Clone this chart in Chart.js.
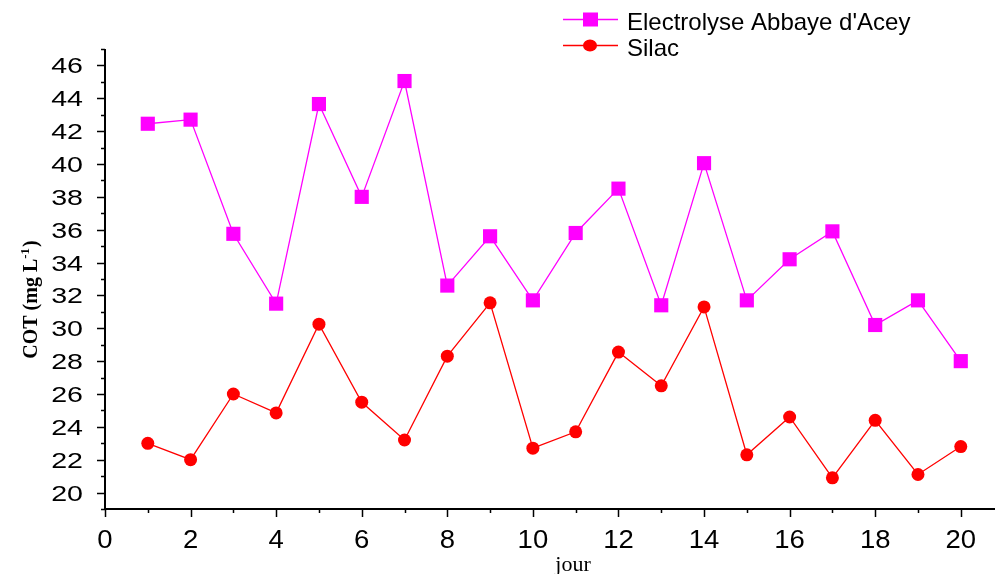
<!DOCTYPE html>
<html>
<head>
<meta charset="utf-8">
<script src="https://cdn.jsdelivr.net/npm/chart.js@4.4.1/dist/chart.umd.min.js"></script>
<style>
  body { margin: 0; background: #fff; }
</style>
</head>
<body>
<canvas id="chart" width="996" height="574"></canvas>
<script>
const days = [1, 2, 3, 4, 5, 6, 7, 8, 9, 10, 11, 12, 13, 14, 15, 16, 17, 18, 19, 20];
const electrolyse = [42.45, 42.7, 35.75, 31.5, 43.65, 38.0, 45.05, 32.6, 35.6, 31.7, 35.8, 38.5, 31.4, 40.05, 31.7, 34.2, 35.9, 30.2, 31.7, 28.0];
const silac = [23.0, 22.0, 26.0, 24.85, 30.25, 25.5, 23.2, 28.3, 31.55, 22.7, 23.7, 28.55, 26.5, 31.3, 22.3, 24.6, 20.9, 24.4, 21.1, 22.8];
const yTickValues = [20, 22, 24, 26, 28, 30, 32, 34, 36, 38, 40, 42, 44, 46];
const xTickValues = [0, 2, 4, 6, 8, 10, 12, 14, 16, 18, 20];
const seriesNames = ["Electrolyse Abbaye d'Acey", "Silac"];

const MAGENTA = "#ff00ff";
const RED = "#ff0000";

function toPoints(values) {
  return days.map((d, i) => ({ x: d, y: values[i] }));
}

// text squeezed/stretched horizontally like the original export
function stretchedText(ctx, text, x, y, sx, align) {
  const w = ctx.measureText(text).width * sx;
  let left = x;
  if (align === "right") left = x - w;
  if (align === "center") left = x - w / 2;
  ctx.save();
  ctx.translate(left, y);
  ctx.scale(sx, 1);
  ctx.textAlign = "left";
  ctx.fillText(text, 0, 0);
  ctx.restore();
}

// axis lines, ticks, tick labels, axis titles and the legend
const decorPlugin = {
  id: "decor",
  afterDraw(chart) {
    const { ctx, chartArea: a, scales: { x, y } } = chart;
    ctx.save();
    ctx.strokeStyle = "#000";
    ctx.lineWidth = 2;
    ctx.beginPath();
    ctx.moveTo(a.left, a.top);
    ctx.lineTo(a.left, a.bottom);
    ctx.lineTo(a.right, a.bottom);
    ctx.stroke();

    ctx.lineWidth = 1.5;
    ctx.beginPath();
    for (let v = Math.ceil(y.min); v <= y.max; v++) {
      const p = Math.round(y.getPixelForValue(v)) + 0.5;
      const len = yTickValues.includes(v) ? 8 : 4;
      ctx.moveTo(a.left - len, p);
      ctx.lineTo(a.left, p);
    }
    for (let v = Math.ceil(x.min); v <= x.max; v++) {
      const p = Math.round(x.getPixelForValue(v)) + 0.5;
      const len = xTickValues.includes(v) ? 8 : 4;
      ctx.moveTo(p, a.bottom);
      ctx.lineTo(p, a.bottom + len);
    }
    ctx.stroke();

    // tick labels
    ctx.fillStyle = "#000";
    ctx.textBaseline = "alphabetic";
    ctx.font = "22px 'Liberation Sans'";
    yTickValues.forEach(v => {
      stretchedText(ctx, String(v), 83, y.getPixelForValue(v) + 8, 1.3, "right");
    });
    ctx.font = "25px 'Liberation Sans'";
    xTickValues.forEach(v => {
      stretchedText(ctx, String(v), x.getPixelForValue(v), 548, 1.1, "center");
    });

    // x title
    ctx.font = "22px 'Liberation Serif'";
    ctx.textAlign = "center";
    ctx.fillText("jour", 573, 571);

    // y title with superscript
    ctx.save();
    ctx.translate(37, 300);
    ctx.rotate(-Math.PI / 2);
    const mainFont = "bold 20px 'Liberation Serif'";
    const supFont = "bold 13px 'Liberation Serif'";
    ctx.textAlign = "left";
    ctx.font = mainFont;
    const w1 = ctx.measureText("COT (mg L").width;
    const w3 = ctx.measureText(")").width;
    ctx.font = supFont;
    const w2 = ctx.measureText("-1").width;
    const sx = -(w1 + w2 + w3) / 2;
    ctx.font = mainFont;
    ctx.fillText("COT (mg L", sx, 0);
    ctx.font = supFont;
    ctx.fillText("-1", sx + w1, -8);
    ctx.font = mainFont;
    ctx.fillText(")", sx + w1 + w2 + 1, 0);
    ctx.restore();

    // legend
    const rows = [
      { name: seriesNames[0], color: MAGENTA, style: "rect", y: 19.5, base: 30 },
      { name: seriesNames[1], color: RED, style: "circle", y: 45.5, base: 56 }
    ];
    rows.forEach(r => {
      ctx.strokeStyle = r.color;
      ctx.lineWidth = 1.5;
      ctx.beginPath();
      ctx.moveTo(563, r.y);
      ctx.lineTo(618, r.y);
      ctx.stroke();
      ctx.fillStyle = r.color;
      if (r.style === "rect") {
        ctx.fillRect(583, r.y - 7, 15, 14);
      } else {
        ctx.beginPath();
        ctx.ellipse(590, r.y, 7, 6, 0, 0, Math.PI * 2);
        ctx.fill();
      }
      ctx.fillStyle = "#000";
      ctx.font = "24px 'Liberation Sans'";
      ctx.textAlign = "left";
      ctx.textBaseline = "alphabetic";
      ctx.fillText(r.name, 627, r.base);
    });
    ctx.restore();
  }
};

new Chart(document.getElementById("chart"), {
  type: "line",
  data: {
    datasets: [
      {
        label: seriesNames[0],
        data: toPoints(electrolyse),
        borderColor: MAGENTA,
        backgroundColor: MAGENTA,
        borderWidth: 1.3,
        pointStyle: "rect",
        pointRadius: 10,
        pointBorderWidth: 0,
        pointHoverRadius: 10,
        tension: 0
      },
      {
        label: seriesNames[1],
        data: toPoints(silac),
        borderColor: RED,
        backgroundColor: RED,
        borderWidth: 1.3,
        pointStyle: "circle",
        pointRadius: 6.5,
        pointBorderWidth: 0,
        pointHoverRadius: 6.5,
        tension: 0
      }
    ]
  },
  options: {
    responsive: false,
    animation: false,
    clip: false,
    layout: { autoPadding: false, padding: { top: 49, right: 1, left: 0, bottom: 0 } },
    plugins: {
      legend: { display: false },
      tooltip: { enabled: false }
    },
    scales: {
      x: {
        type: "linear",
        min: 0,
        max: 20.8,
        grid: { display: false, drawTicks: false, tickLength: 0 },
        border: { display: false },
        afterBuildTicks: s => { s.ticks = xTickValues.map(v => ({ value: v })); },
        afterFit: s => { s.height = 65; s.paddingLeft = 0; s.paddingRight = 0; },
        ticks: { display: false }
      },
      y: {
        min: 19,
        max: 47,
        grid: { display: false, drawTicks: false, tickLength: 0 },
        border: { display: false },
        afterBuildTicks: s => { s.ticks = yTickValues.map(v => ({ value: v })); },
        afterFit: s => { s.width = 105; s.paddingTop = 0; s.paddingBottom = 0; },
        ticks: { display: false }
      }
    }
  },
  plugins: [decorPlugin]
});
</script>
</body>
</html>
